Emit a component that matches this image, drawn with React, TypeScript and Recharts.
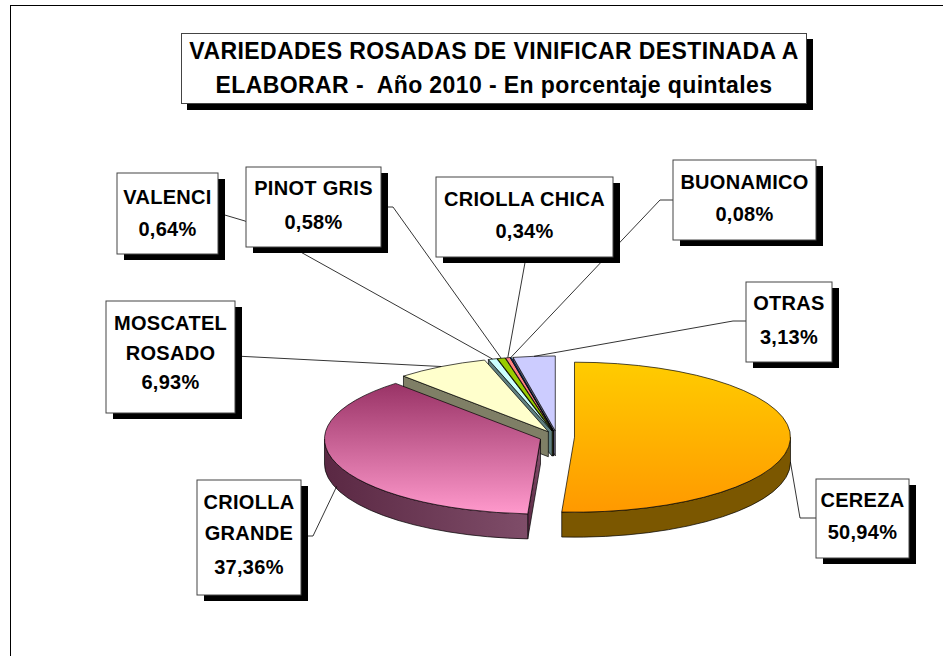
import { Pie, PieChart } from 'recharts'

// Datos: variedades rosadas, % de quintales 2010
const VARIETIES = [
  'CEREZA',
  'CRIOLLA\nGRANDE',
  'MOSCATEL\nROSADO',
  'VALENCI',
  'PINOT GRIS',
  'CRIOLLA CHICA',
  'BUONAMICO',
  'OTRAS',
]
const SHARES = [50.94, 37.36, 6.93, 0.64, 0.58, 0.34, 0.08, 3.13]
const TITLE_LINES = [
  'VARIEDADES ROSADAS DE VINIFICAR DESTINADA A',
  'ELABORAR -  Año 2010 - En porcentaje quintales',
]

// estilo de cada porción (cara superior / pared)
const TOP_FILLS = [
  'url(#topCereza)',
  'url(#topCriollaGrande)',
  '#FFFFCC',
  '#CCFFFF',
  '#99CC00',
  '#FF8080',
  '#0066CC',
  '#CCCCFF',
]
const WALL_FILLS = [
  '#7b5700',
  'url(#wallCriollaGrande)',
  '#7f7f66',
  '#5f7f7f',
  '#4d6600',
  '#804040',
  '#003366',
  '#66667f',
]

// cajas de etiquetas: posición, líneas de texto y quiebres de la línea guía
const LABEL_BOXES = [
  { x: 816, y: 479, w: 93, h: 79, baselines: [507, 539], path: [[800, 518], [816, 518]] },
  { x: 197, y: 480, w: 104, h: 115, baselines: [509, 540, 574], path: [[313, 536], [301, 536]] },
  { x: 106, y: 301, w: 129, h: 112, baselines: [330, 360, 389], path: [[235, 356]] },
  { x: 117, y: 173, w: 101, h: 81, baselines: [204, 236], path: [[245, 221], [218, 213]] },
  { x: 246, y: 167, w: 135, h: 80, baselines: [195, 229], path: [[393, 207], [381, 207]] },
  { x: 436, y: 177, w: 177, h: 80, baselines: [206, 238], path: [[526, 257]] },
  { x: 673, y: 160, w: 143, h: 80, baselines: [189, 221], path: [[660, 200], [673, 200]] },
  { x: 746, y: 282, w: 86, h: 80, baselines: [310, 344], path: [[733, 321], [746, 321]] },
]

const TILT = 75 / 216
const DEPTH = 25
const EXPLODE = 17.5
const FONT = '"Liberation Sans", Arial, sans-serif'

type Row = { name: string; value: number; idx: number }

const rows: Row[] = VARIETIES.map((name, idx) => ({ name, value: SHARES[idx], idx }))
const rowsReversed = [...rows].reverse()

const rad = (a: number) => (a * Math.PI) / 180
const sin = (a: number) => Math.sin(rad(a))
const cos = (a: number) => Math.cos(rad(a))

// ángulos de recharts -> grados horarios desde las 12
function sliceGeom(p: any) {
  const a1 = 90 - Math.max(p.startAngle, p.endAngle)
  const a2 = 90 - Math.min(p.startAngle, p.endAngle)
  const mid = (a1 + a2) / 2
  const rx = p.outerRadius
  const ry = p.outerRadius * TILT
  const cx = p.cx + EXPLODE * sin(mid)
  const cy = p.cy - EXPLODE * TILT * cos(mid)
  const pt = (a: number, dy = 0) => `${cx + rx * sin(a)},${cy - ry * cos(a) + dy}`
  const xy = (a: number, dy = 0): [number, number] => [cx + rx * sin(a), cy - ry * cos(a) + dy]
  return { a1, a2, mid, rx, ry, cx, cy, pt, xy }
}

function renderWalls(props: any) {
  const g = sliceGeom(props)
  const fill = WALL_FILLS[props.payload.idx]
  const paths: string[] = []
  const radial = (a: number) =>
    `M${g.cx},${g.cy} L${g.pt(a)} L${g.pt(a, DEPTH)} L${g.cx},${g.cy + DEPTH} Z`
  if (sin(g.a1) < -1e-6) paths.push(radial(g.a1))
  if (sin(g.a2) > 1e-6) paths.push(radial(g.a2))
  const lo = Math.max(g.a1, 90)
  const hi = Math.min(g.a2, 270)
  if (hi > lo) {
    paths.push(
      `M${g.pt(lo)} A${g.rx},${g.ry} 0 0 1 ${g.pt(hi)} L${g.pt(hi, DEPTH)} A${g.rx},${g.ry} 0 0 0 ${g.pt(lo, DEPTH)} Z`,
    )
  }
  return (
    <g key={`wall-${props.index}`}>
      {paths.map((d, i) => (
        <path key={i} d={d} fill={fill} stroke="#000" strokeWidth={0.7} strokeLinejoin="round" />
      ))}
    </g>
  )
}

function renderTops(props: any) {
  const g = sliceGeom(props)
  const large = g.a2 - g.a1 > 180 ? 1 : 0
  const d = `M${g.cx},${g.cy} L${g.pt(g.a1)} A${g.rx},${g.ry} 0 ${large} 1 ${g.pt(g.a2)} Z`
  return (
    <g key={`top-${props.index}`}>
      {props.index === 0 ? (
        <defs>
          <linearGradient id="topCereza" x1="0" y1="0" x2="0" y2="1">
            <stop offset="0%" stopColor="#FFCC00" />
            <stop offset="100%" stopColor="#FF9900" />
          </linearGradient>
          <linearGradient id="topCriollaGrande" x1="0" y1="0" x2="0" y2="1">
            <stop offset="0%" stopColor="#993366" />
            <stop offset="100%" stopColor="#FF99CC" />
          </linearGradient>
          <linearGradient id="wallCriollaGrande" x1="0" y1="0" x2="1" y2="0">
            <stop offset="0%" stopColor="#5a2843" />
            <stop offset="100%" stopColor="#7f4d69" />
          </linearGradient>
        </defs>
      ) : null}
      <path d={d} fill={TOP_FILLS[props.payload.idx]} stroke="#000" strokeWidth={0.7} strokeLinejoin="round" />
    </g>
  )
}

function renderLeader(props: any) {
  const g = sliceGeom(props)
  const front = cos(g.mid) < 0
  const [ax, ay] = g.xy(g.mid, front ? DEPTH * 0.9 : 0)
  const box = LABEL_BOXES[props.payload.idx]
  const pts = [[ax, ay], ...box.path].map((p) => p.join(',')).join(' ')
  return <polyline key={`lead-${props.index}`} points={pts} fill="none" stroke="#000" strokeWidth={0.8} />
}

function renderBox(props: any) {
  const row: Row = props.payload
  const box = LABEL_BOXES[row.idx]
  const lines = [...row.name.split('\n'), `${row.value.toFixed(2).replace('.', ',')}%`]
  const tx = box.x + box.w / 2
  return (
    <g key={`box-${props.index}`}>
      <rect x={box.x + 7} y={box.y + 6} width={box.w} height={box.h} fill="#000" />
      <rect x={box.x} y={box.y} width={box.w} height={box.h} fill="#fff" stroke="#444" strokeWidth={1} />
      {lines.map((t, i) => (
        <text
          key={i}
          x={tx}
          y={box.baselines[i]}
          textAnchor="middle"
          fontFamily={FONT}
          fontWeight="bold"
          fontSize={20}
          letterSpacing={0.3}
          fill="#000"
        >
          {t}
        </text>
      ))}
    </g>
  )
}

const pieCommon = {
  dataKey: 'value',
  nameKey: 'name',
  cx: 557,
  cy: 437,
  outerRadius: 216,
  fill: 'transparent',
  stroke: 'none',
  labelLine: false,
  isAnimationActive: false,
} as const

export default function App() {
  return (
    <div style={{ position: 'absolute', left: 0, top: 0, width: 943, height: 656, background: '#fff', overflow: 'hidden' }}>
      <div
        style={{
          position: 'absolute',
          left: 10,
          top: 5,
          width: 1000,
          height: 700,
          borderLeft: '1.5px solid #000',
          borderTop: '1.5px solid #000',
        }}
      />
      <div
        style={{
          position: 'absolute',
          left: 181,
          top: 33,
          width: 624,
          height: 69,
          background: '#fff',
          border: '1px solid #444',
          boxShadow: '6px 6px 0 #000',
          fontFamily: FONT,
          fontWeight: 'bold',
          fontSize: 23,
          letterSpacing: 0.4,
          textAlign: 'center',
          lineHeight: '34px',
          whiteSpace: 'pre',
        }}
      >
        {TITLE_LINES.map((t) => (
          <div key={t}>{t}</div>
        ))}
      </div>
      <div style={{ position: 'absolute', left: 0, top: 0 }}>
        <PieChart width={943} height={656} margin={{ top: 0, right: 0, bottom: 0, left: 0 }}>
          <Pie {...pieCommon} data={rowsReversed} startAngle={-270} endAngle={90} label={renderWalls} />
          <Pie {...pieCommon} data={rows} startAngle={90} endAngle={-270} label={renderTops} />
          <Pie {...pieCommon} data={rows} startAngle={90} endAngle={-270} label={renderLeader} />
          <Pie {...pieCommon} data={rows} startAngle={90} endAngle={-270} label={renderBox} />
        </PieChart>
      </div>
    </div>
  )
}
